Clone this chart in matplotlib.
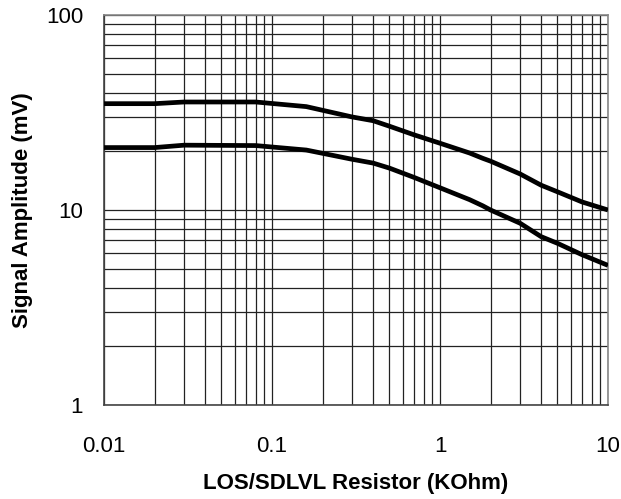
import matplotlib
matplotlib.use("Agg")
import matplotlib.pyplot as plt
from matplotlib.ticker import LogLocator, FixedLocator, FixedFormatter, NullFormatter

# Data
resistor_kohm = [0.01, 0.02, 0.03, 0.08, 0.16, 0.3, 0.4, 0.5, 0.7, 1.0, 1.5, 1.8, 2.0, 3.0, 4.0, 5.0, 7.0, 10.0]
upper_mv = [35.1, 35.1, 35.8, 35.8, 33.9, 30.0, 28.7, 26.9, 24.3, 22.0, 19.6, 18.4, 17.8, 15.3, 13.4, 12.4, 11.0, 10.0]
lower_mv = [20.9, 20.9, 21.5, 21.4, 20.3, 18.2, 17.4, 16.4, 14.7, 13.0, 11.3, 10.5, 10.0, 8.55, 7.3, 6.75, 5.9, 5.2]

x_ticks = [0.01, 0.1, 1, 10]
x_tick_labels = ["0.01", "0.1", "1", "10"]
y_ticks = [1, 10, 100]
y_tick_labels = ["1", "10", "100"]

plt.rcParams['font.family'] = ['Liberation Sans', 'DejaVu Sans']

fig = plt.figure(figsize=(6.21, 4.99), dpi=100)
ax = fig.add_axes([104/621, 1 - 405/499, (608-104)/621, (405-15)/499])

ax.set_xscale('log')
ax.set_yscale('log')
ax.set_xlim(0.01, 10)
ax.set_ylim(1, 100)

ax.plot(resistor_kohm, upper_mv, color='black', lw=3.4, solid_capstyle='butt', zorder=3)
ax.plot(resistor_kohm, lower_mv, color='black', lw=3.4, solid_capstyle='butt', zorder=3)

ax.xaxis.set_major_locator(FixedLocator(x_ticks))
ax.xaxis.set_major_formatter(FixedFormatter(x_tick_labels))
ax.yaxis.set_major_locator(FixedLocator(y_ticks))
ax.yaxis.set_major_formatter(FixedFormatter(y_tick_labels))
ax.xaxis.set_minor_locator(LogLocator(base=10, subs=range(2, 10)))
ax.yaxis.set_minor_locator(LogLocator(base=10, subs=range(2, 10)))
ax.xaxis.set_minor_formatter(NullFormatter())
ax.yaxis.set_minor_formatter(NullFormatter())

ax.grid(True, which='both', color='#222222', lw=0.9)
ax.set_axisbelow(True)

ax.tick_params(axis='both', which='both', length=0)
ax.tick_params(axis='x', which='major', labelsize=16, pad=22)
ax.tick_params(axis='y', which='major', labelsize=16, pad=15)

for side in ['left', 'bottom']:
    ax.spines[side].set_color('#444444')
    ax.spines[side].set_linewidth(1.2)
for side in ['top', 'right']:
    ax.spines[side].set_color('#888888')
    ax.spines[side].set_linewidth(1.2)

ax.set_xlabel('LOS/SDLVL Resistor (KOhm)', fontsize=16, fontweight='bold', labelpad=12)
ax.set_ylabel('Signal Amplitude (mV)', fontsize=16, fontweight='bold', labelpad=9)

fig.savefig('out.png', dpi=100)
